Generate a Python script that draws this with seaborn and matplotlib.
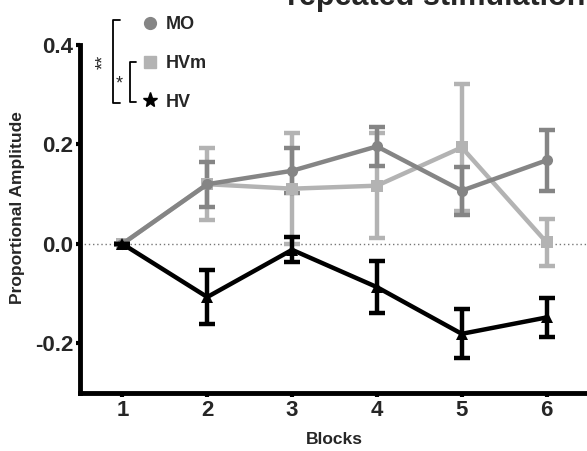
import matplotlib
matplotlib.use("Agg")
import matplotlib.pyplot as plt
from matplotlib.lines import Line2D
import seaborn as sns
import pandas as pd
import numpy as np

blocks = [1, 2, 3, 4, 5, 6]
groups = ["MO", "HVm", "HV"]
mo_mean = [0.0, 0.120, 0.147, 0.196, 0.107, 0.168]
mo_err = [0.0, 0.045, 0.045, 0.040, 0.048, 0.062]
hvm_mean = [0.0, 0.120, 0.111, 0.117, 0.194, 0.003]
hvm_err = [0.0, 0.073, 0.111, 0.105, 0.127, 0.048]
hv_mean = [0.0, -0.107, -0.012, -0.087, -0.181, -0.148]
hv_err = [0.0, 0.055, 0.025, 0.052, 0.049, 0.040]
y_ticks = [-0.2, 0.0, 0.2, 0.4]
y_ticklabels = ["-0.2", "0.0", "0.2", "0.4"]
title_text = "repeated stimulation"
x_label = "Blocks"
y_label = "Proportional Amplitude"

colors = {"MO": "#858585", "HVm": "#b3b3b3", "HV": "#000000"}
markers = {"MO": "o", "HVm": "s", "HV": "^"}

df = pd.DataFrame({
    "Block": blocks * 3,
    "Group": ["MO"] * 6 + ["HVm"] * 6 + ["HV"] * 6,
    "Mean": mo_mean + hvm_mean + hv_mean,
    "Err": mo_err + hvm_err + hv_err,
})

sns.set_style("ticks")
plt.rcParams["font.family"] = ["Liberation Sans", "DejaVu Sans"]

fig = plt.figure(figsize=(5.87, 4.51), dpi=100)
ax = fig.add_axes([80 / 587, 58 / 451, 509 / 587, 348 / 451])

ax.axhline(0, color="#777777", lw=1.0, ls=(0, (1, 2)), zorder=1)

order = ["HVm", "MO", "HV"]
for g in order:
    sub = df[df["Group"] == g]
    ax.errorbar(sub["Block"], sub["Mean"], yerr=sub["Err"], fmt="none",
                ecolor=colors[g], elinewidth=3.2, capsize=5.5, capthick=3.2,
                zorder=2 if g != "HV" else 4)

sns.lineplot(data=df, x="Block", y="Mean", hue="Group", style="Group",
             hue_order=order, style_order=order,
             palette=colors, markers=markers, dashes=False,
             linewidth=3.2, markersize=8, markeredgewidth=0,
             legend=False, ax=ax, zorder=3)

ax.set_xlim(0.5, 6.5)
ax.set_ylim(-0.3, 0.4)
ax.set_xticks(blocks)
ax.set_xticklabels([str(b) for b in blocks], fontsize=16, fontweight="bold")
ax.set_yticks(y_ticks)
ax.set_yticklabels(y_ticklabels, fontsize=16, fontweight="bold")
ax.tick_params(axis="both", direction="out", length=3, width=3, pad=2, color="black")
for s in ["top", "right"]:
    ax.spines[s].set_visible(False)
for s in ["left", "bottom"]:
    ax.spines[s].set_linewidth(3.5)
    ax.spines[s].set_color("black")
ax.set_xlabel(x_label, fontsize=12.5, fontweight="bold", labelpad=8)
ax.set_ylabel(y_label, fontsize=12.5, fontweight="bold")
ax.yaxis.label.set_va("center")
ax.yaxis.label.set_ha("center")
ax.yaxis.set_label_coords((18 - 80) / 509, (393 - 208) / 348)

handles = [Line2D([], [], color=colors[g], marker=markers[g] if g != "HV" else "*",
                  linestyle="none", markersize=8.5 if g != "HV" else 11, label=g)
           for g in groups]
leg = fig.legend(handles=handles, loc="upper left", bbox_to_anchor=(130 / 587, 1 - 9 / 451),
                 frameon=False, handletextpad=0.2, labelspacing=1.2,
                 prop={"size": 13, "weight": "bold"}, handlelength=1.4, borderaxespad=0)

# significance brackets
def bracket(x, y0, y1, tick):
    xs = [x + tick, x, x, x + tick]
    ys = [y0, y0, y1, y1]
    fig.add_artist(Line2D([v / 587 for v in xs], [1 - v / 451 for v in ys],
                          color="black", lw=1.3))

bracket(113, 20, 103, 7)
bracket(130, 62, 102, 6)
fig.text(104 / 587, 1 - 62 / 451, "**", rotation=90, ha="center", va="center", fontsize=13)
fig.text(119 / 587, 1 - 84 / 451, "*", ha="center", va="center", fontsize=13)

fig.text(287 / 587, 1 - 5 / 451, title_text, ha="left", va="baseline",
         fontsize=22, fontweight="bold")

fig.savefig("out.png", dpi=100)
